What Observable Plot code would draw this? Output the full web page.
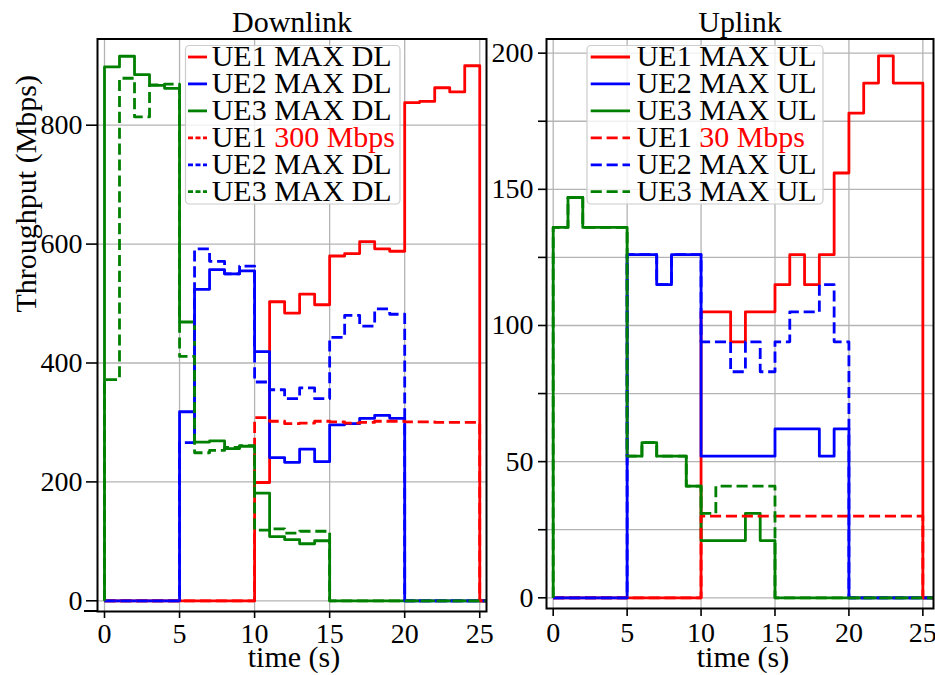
<!DOCTYPE html>
<html>
<head>
<meta charset="utf-8">
<script src="https://cdn.jsdelivr.net/npm/d3@7"></script>
<script src="https://cdn.jsdelivr.net/npm/@observablehq/plot@0.6"></script>
<style>
  body { margin: 0; background: #fff; }
  #fig { position: relative; width: 935px; height: 675px; overflow: hidden; }
  #fig > svg { position: absolute; top: 0; }
  #fig text, #fig tspan { font-family: 'Liberation Serif', 'Times New Roman', serif !important; }
</style>
</head>
<body>
<div id="fig"></div>
<script>
// Sample grid (s): each value below holds for one second [t, t+1)
const seconds = [0,1,2,3,4,5,6,7,8,9,10,11,12,13,14,15,16,17,18,19,20,21,22,23,24,25,26];
const xTicks = [0, 5, 10, 15, 20, 25];
const dlTicks = [0, 200, 400, 600, 800];
const ulTicks = [0, 25, 50, 75, 100, 125, 150, 175, 200];
const ueColors = ["#ff0000", "#0000ff", "#008000"];

// Downlink throughput (Mbps)
const dlUE1Max = [0,0,0,0,0,0,0,0,0,0,199,503,484,516,498,580,584,604,592,588,838,840,863,856,900];
const dlUE2Max = [0,0,0,0,0,318,524,557,550,555,419,241,233,255,234,296,298,307,312,307,0,0,0,0,0];
const dlUE3Max = [898,916,885,867,862,469,267,269,256,260,181,108,103,96,101,0,0,0,0,0,0,0,0,0,0];
const dlUE1Cap = [0,0,0,0,0,0,0,0,0,0,308,302,298,299,302,301,299,300,302,302,301,301,300,300,300];
const dlUE2Alt = [0,0,0,0,0,266,592,571,550,563,368,355,340,358,340,443,480,462,491,482,0,0,0,0,0];
const dlUE3Alt = [372,879,814,868,869,411,249,253,258,261,119,121,114,117,117,0,0,0,0,0,0,0,0,0,0];

// Uplink throughput (Mbps)
const ulUE1Max = [0,0,0,0,0,0,0,0,0,0,105,105,94,105,105,115,126,115,126,156,178,189,199,189,189];
const ulUE2Max = [0,0,0,0,0,126,126,115,126,126,52,52,52,52,52,62,62,62,52,62,0,0,0,0,0];
const ulUE3Max = [136,147,136,136,136,52,57,52,52,41,21,21,21,31,21,0,0,0,0,0,0,0,0,0,0];
const ulUE1Cap = [0,0,0,0,0,0,0,0,0,0,30,30,30,30,30,30,30,30,30,30,30,30,30,30,30];
const ulUE2Alt = [0,0,0,0,0,126,126,115,126,126,94,94,83,94,83,94,105,105,115,94,0,0,0,0,0];
const ulUE3Alt = [136,147,136,136,136,52,57,52,52,41,31,41,41,41,41,0,0,0,0,0,0,0,0,0,0];

const dlLabels = ["UE1 MAX DL", "UE2 MAX DL", "UE3 MAX DL", "UE1 300 Mbps", "UE2 MAX DL", "UE3 MAX DL"];
const ulLabels = ["UE1 MAX UL", "UE2 MAX UL", "UE3 MAX UL", "UE1 30 Mbps", "UE2 MAX UL", "UE3 MAX UL"];

const SERIF = "'Liberation Serif', 'Times New Roman', serif";
const DASH = "11.1,4.8";
const LW = 2.8;

// Points for a step curve: value v[i] is held over [t_i, t_(i+1)), then drops to 0
function stepPoints(values) {
  return [{t: seconds[0], v: 0}]
    .concat(values.map((v, i) => ({t: seconds[i + 1], v})))
    .concat([{t: seconds[values.length + 1], v: 0}]);
}

function seriesMarks(solid, dashed) {
  const marks = [];
  solid.forEach((vals, i) => marks.push(Plot.line(stepPoints(vals), {
    x: "t", y: "v", curve: "step-before", stroke: ueColors[i], strokeWidth: LW,
    strokeLinecap: "butt", strokeLinejoin: "round", clip: true
  })));
  dashed.forEach((vals, i) => marks.push(Plot.line(stepPoints(vals), {
    x: "t", y: "v", curve: "step-before", stroke: ueColors[i], strokeWidth: LW,
    strokeDasharray: DASH, strokeLinecap: "butt", strokeLinejoin: "round", clip: true
  })));
  return marks;
}

const gridStyle = {stroke: "#b4b4b4", strokeOpacity: 1, strokeWidth: 1.3};
const fig = document.getElementById("fig");

// Downlink panel
const dl = Plot.plot({
  width: 500, height: 675,
  marginLeft: 97, marginRight: 14, marginTop: 38.5, marginBottom: 64,
  x: {domain: [-0.466, 25.45]},
  y: {domain: [-18, 945]},
  style: {fontFamily: SERIF, fontSize: "28px", color: "black", background: "none", overflow: "visible"},
  marks: [
    Plot.gridX(xTicks, gridStyle),
    Plot.gridY(dlTicks, gridStyle),
    ...seriesMarks([dlUE1Max, dlUE2Max, dlUE3Max], [dlUE1Cap, dlUE2Alt, dlUE3Alt]),
    Plot.frame({stroke: "black", strokeWidth: 2}),
    Plot.axisX(xTicks, {tickSize: 7, tickPadding: 5, strokeWidth: 1.6, label: null, fontSize: 28}),
    Plot.axisY(dlTicks, {tickSize: 11, tickPadding: 4, strokeWidth: 1.6, label: null, fontSize: 28}),
    Plot.text(["Downlink"], {text: d => d, frameAnchor: "top", lineAnchor: "bottom", dy: -7.5, fontSize: 30, fill: "black"}),
    Plot.text(["time (s)"], {text: d => d, frameAnchor: "bottom", lineAnchor: "bottom", dx: 2, dy: 55, fontSize: 30, fill: "black"}),
    Plot.text(["Throughput (Mbps)"], {text: d => d, frameAnchor: "left", lineAnchor: "bottom", rotate: -90, dx: -61.5, dy: -12.75, fontSize: 30, fill: "black"})
  ]
});
dl.style.left = "0px";
fig.appendChild(dl);

// Uplink panel
const ul = Plot.plot({
  width: 435, height: 675,
  marginLeft: 46, marginRight: 2, marginTop: 38.5, marginBottom: 67,
  x: {domain: [-0.453, 25.72]},
  y: {domain: [-3.93, 205.2]},
  style: {fontFamily: SERIF, fontSize: "28px", color: "black", background: "none", overflow: "visible"},
  marks: [
    Plot.gridX(xTicks, gridStyle),
    Plot.gridY(ulTicks, gridStyle),
    ...seriesMarks([ulUE1Max, ulUE2Max, ulUE3Max], [ulUE1Cap, ulUE2Alt, ulUE3Alt]),
    Plot.frame({stroke: "black", strokeWidth: 2}),
    Plot.axisX(xTicks, {tickSize: 8, tickPadding: 6, strokeWidth: 1.6, label: null, fontSize: 28}),
    Plot.axisY(ulTicks, {tickSize: 8, tickPadding: 5, strokeWidth: 1.6, label: null, fontSize: 28,
                         tickFormat: d => (d % 50 === 0 ? String(d) : "")}),
    Plot.text(["Uplink"], {text: d => d, frameAnchor: "top", lineAnchor: "bottom", dy: -7.5, fontSize: 30, fill: "black"}),
    Plot.text(["time (s)"], {text: d => d, frameAnchor: "bottom", lineAnchor: "bottom", dx: 3, dy: 58, fontSize: 30, fill: "black"})
  ]
});
ul.style.left = "500px";
fig.appendChild(ul);

// Legends and the extended bottom spine of the downlink panel
const overlay = d3.create("svg")
  .attr("width", 935).attr("height", 675)
  .style("left", "0px").style("pointer-events", "none");

overlay.append("line")
  .attr("x1", 84).attr("x2", 98).attr("y1", 611).attr("y2", 611)
  .attr("stroke", "black").attr("stroke-width", 2);

function drawLegend(box, labels, handle, textX, handleDash) {
  const g = overlay.append("g");
  g.append("rect")
    .attr("x", box.x).attr("y", box.y).attr("width", box.w).attr("height", box.h)
    .attr("rx", 4).attr("fill", "white").attr("fill-opacity", 0.8)
    .attr("stroke", "#cccccc").attr("stroke-width", 1.2);
  const baselines = [66, 92.9, 119.9, 146.8, 173.8, 200.7];
  labels.forEach((label, i) => {
    const y = baselines[i];
    g.append("line")
      .attr("x1", handle[0]).attr("x2", handle[1]).attr("y1", y - 9).attr("y2", y - 9)
      .attr("stroke", ueColors[i % 3]).attr("stroke-width", LW)
      .attr("stroke-dasharray", i >= 3 ? handleDash : null);
    const t = g.append("text")
      .attr("x", textX).attr("y", y)
      .attr("font-size", 30).attr("fill", "black");
    const m = label.match(/^(.*?)(\d+ Mbps)$/);
    if (m) {
      t.append("tspan").text(m[1]);
      t.append("tspan").attr("fill", "#ff0000").text(m[2]);
    } else {
      t.text(label);
    }
  });
}

drawLegend({x: 185.5, y: 45.5, w: 214.5, h: 158.5}, dlLabels, [188, 207], 211.7, "5,2.5");
drawLegend({x: 587, y: 45.5, w: 236, h: 158.5}, ulLabels, [590.7, 630], 636.7, DASH);

fig.appendChild(overlay.node());

// Serif face on every label
fig.querySelectorAll("text, tspan").forEach(el => {
  el.removeAttribute("font-family");
  el.style.fontFamily = SERIF;
});
</script>
</body>
</html>
